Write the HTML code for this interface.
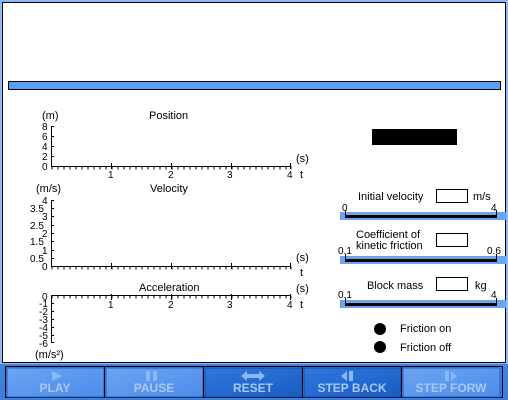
<!DOCTYPE html>
<html><head><meta charset="utf-8"><style>
body{margin:0;width:508px;height:400px;overflow:hidden;background:#4d8fe8;font-family:"Liberation Sans",sans-serif}
svg{display:block}
text{font-family:"Liberation Sans",sans-serif;font-size:11px;fill:#000}
.b{font-size:12px;font-weight:bold;fill:#a9c9f2}
</style></head><body>
<svg width="508" height="400" xmlns="http://www.w3.org/2000/svg">
<defs>
<linearGradient id="bg" x1="0" y1="0" x2="0" y2="1"><stop offset="0" stop-color="#7fb0f5"/><stop offset="1" stop-color="#3a7fe0"/></linearGradient>
<linearGradient id="b1" x1="0" y1="0" x2="1" y2="1"><stop offset="0" stop-color="#6aa5f2"/><stop offset="1" stop-color="#4c8ceb"/></linearGradient>
<linearGradient id="b2" x1="0" y1="0" x2="1" y2="1"><stop offset="0" stop-color="#2f78dd"/><stop offset="1" stop-color="#1a5cc4"/></linearGradient>
</defs>
<rect width="508" height="400" fill="url(#bg)"/>
<rect x="0" y="0" width="508" height="364" fill="#8ab8f8"/>
<rect x="2.5" y="2.5" width="503" height="360" fill="#fff" stroke="#000"/>
<rect x="8.5" y="81.5" width="492" height="8" fill="#5a9ef8" stroke="#000"/>
<rect x="372" y="129" width="85" height="16" fill="#000"/>

<!-- Position -->
<g stroke="#000" fill="none">
<path d="M51.5 126v40.5H291"/>
<line x1="51.5" y1="168" x2="292" y2="168" stroke-dasharray="1 5" stroke-width="3"/>
<path d="M111.5 163v6M171.5 163v6M231.5 163v6M290.5 163v6M51 126.5h3M51 136.5h3M51 146.5h3M51 156.5h3"/>
</g>
<text x="42" y="119">(m)</text><text x="149" y="119">Position</text>
<g font-size="10"><text x="42" y="130" style="font-size:10px">8</text><text x="42" y="140" style="font-size:10px">6</text><text x="42" y="150" style="font-size:10px">4</text><text x="42" y="160" style="font-size:10px">2</text><text x="42" y="170" style="font-size:10px">0</text></g>
<text x="108" y="178" style="font-size:10px">1</text><text x="168" y="178" style="font-size:10px">2</text><text x="227" y="178" style="font-size:10px">3</text><text x="287" y="178" style="font-size:10px">4</text>
<text x="296" y="162">(s)</text><text x="300" y="178">t</text>

<!-- Velocity -->
<g stroke="#000" fill="none">
<path d="M51.5 200v66.5H291"/>
<line x1="51.5" y1="268" x2="292" y2="268" stroke-dasharray="1 5" stroke-width="3"/>
<path d="M111.5 263v6M171.5 263v6M231.5 263v6M290.5 263v6M51 200.5h3M51 208.5h3M51 216.5h3M51 225.5h3M51 233.5h3M51 241.5h3M51 250.5h3M51 258.5h3"/>
</g>
<text x="36" y="192">(m/s)</text><text x="150" y="192">Velocity</text>
<g style="font-size:10px"><text x="42" y="204" style="font-size:10px">4</text><text x="30" y="212" style="font-size:10px">3.5</text><text x="42" y="220" style="font-size:10px">3</text><text x="30" y="229" style="font-size:10px">2.5</text><text x="42" y="237" style="font-size:10px">2</text><text x="30" y="245" style="font-size:10px">1.5</text><text x="42" y="254" style="font-size:10px">1</text><text x="30" y="262" style="font-size:10px">0.5</text><text x="42" y="270" style="font-size:10px">0</text></g>
<text x="296" y="261">(s)</text><text x="300" y="276">t</text>

<!-- Acceleration -->
<g stroke="#000" fill="none">
<path d="M51.5 343v-47.5H291"/>
<line x1="51.5" y1="297" x2="292" y2="297" stroke-dasharray="1 5" stroke-width="3"/>
<path d="M111.5 294v6M171.5 294v6M231.5 294v6M290.5 294v6M51 303.5h3M51 311.5h3M51 319.5h3M51 327.5h3M51 335.5h3M51 342.5h3"/>
</g>
<text x="139" y="291">Acceleration</text>
<g><text x="42" y="300" style="font-size:10px">0</text><text x="39" y="307" style="font-size:10px">-1</text><text x="39" y="315" style="font-size:10px">-2</text><text x="39" y="323" style="font-size:10px">-3</text><text x="39" y="331" style="font-size:10px">-4</text><text x="39" y="339" style="font-size:10px">-5</text><text x="39" y="347" style="font-size:10px">-6</text></g>
<text x="108" y="308" style="font-size:10px">1</text><text x="168" y="308" style="font-size:10px">2</text><text x="227" y="308" style="font-size:10px">3</text><text x="287" y="308" style="font-size:10px">4</text>
<text x="296" y="292">(s)</text><text x="300" y="308">t</text>
<text x="35" y="358">(m/s²)</text>

<!-- Sliders -->
<g>
<text x="358" y="200">Initial velocity</text>
<rect x="436.5" y="189.5" width="31" height="13" fill="#fff" stroke="#000"/>
<text x="473" y="200">m/s</text>
<text x="342" y="211" style="font-size:10px">0</text><text x="491" y="211" style="font-size:10px">4</text>
<rect x="340" y="212" width="166" height="8" fill="#6aa5f2"/>
<path d="M345.5 210v8M496.5 210v8" stroke="#000"/>
<rect x="345" y="215" width="152" height="3" fill="#000"/>

<text x="356" y="238">Coefficient of</text><text x="356" y="249">kinetic friction</text>
<rect x="436.5" y="233.5" width="31" height="13" fill="#fff" stroke="#000"/>
<text x="338" y="254" style="font-size:10px">0.1</text><text x="487" y="254" style="font-size:10px">0.6</text>
<rect x="340" y="256" width="166" height="8" fill="#6aa5f2"/>
<path d="M345.5 254v8M496.5 254v8" stroke="#000"/>
<rect x="345" y="259" width="152" height="3" fill="#000"/>

<text x="367" y="289">Block mass</text>
<rect x="436.5" y="277.5" width="31" height="13" fill="#fff" stroke="#000"/>
<text x="475" y="289">kg</text>
<text x="338" y="298" style="font-size:10px">0.1</text><text x="491" y="298" style="font-size:10px">4</text>
<rect x="340" y="300" width="166" height="8" fill="#6aa5f2"/>
<path d="M345.5 298v8M496.5 298v8" stroke="#000"/>
<rect x="345" y="303" width="152" height="3" fill="#000"/>

<circle cx="380" cy="329" r="6" fill="#000"/><text x="400" y="332">Friction on</text>
<circle cx="380" cy="347" r="6" fill="#000"/><text x="400" y="351">Friction off</text>
</g>

<!-- Buttons -->
<rect x="5.5" y="366.5" width="497" height="31" fill="none" stroke="#000"/>
<rect x="7" y="368" width="97" height="29" fill="url(#b1)" stroke="#2a5fb0"/>
<rect x="106" y="368" width="97" height="29" fill="url(#b1)" stroke="#2a5fb0"/>
<rect x="205" y="368" width="97" height="29" fill="url(#b2)" stroke="#174a9a"/>
<rect x="304" y="368" width="97" height="29" fill="url(#b2)" stroke="#174a9a"/>
<rect x="403" y="368" width="97" height="29" fill="url(#b1)" stroke="#2a5fb0"/>
<path d="M104.5 367v30M203.5 367v30M302.5 367v30M401.5 367v30" stroke="#000"/>
<g fill="#8ab8f5">
<polygon points="52,371 62,376 52,381"/>
<rect x="146" y="371" width="4" height="10"/><rect x="153" y="371" width="4" height="10"/>
<polygon points="241,376 247,371 247,381"/><rect x="247" y="374" width="12" height="4"/><polygon points="265,376 259,371 259,381"/>
<polygon points="341,376 347,371 347,381"/><rect x="349" y="371" width="4" height="10"/>
<rect x="445" y="371" width="4" height="10"/><polygon points="451,371 457,376 451,381"/>
</g>
<text class="b" x="55" y="392" text-anchor="middle">PLAY</text>
<text class="b" x="154" y="392" text-anchor="middle">PAUSE</text>
<text class="b" x="253" y="392" text-anchor="middle">RESET</text>
<text class="b" x="352" y="392" text-anchor="middle">STEP BACK</text>
<text class="b" x="451" y="392" text-anchor="middle">STEP FORW</text>
</svg>
</body></html>
